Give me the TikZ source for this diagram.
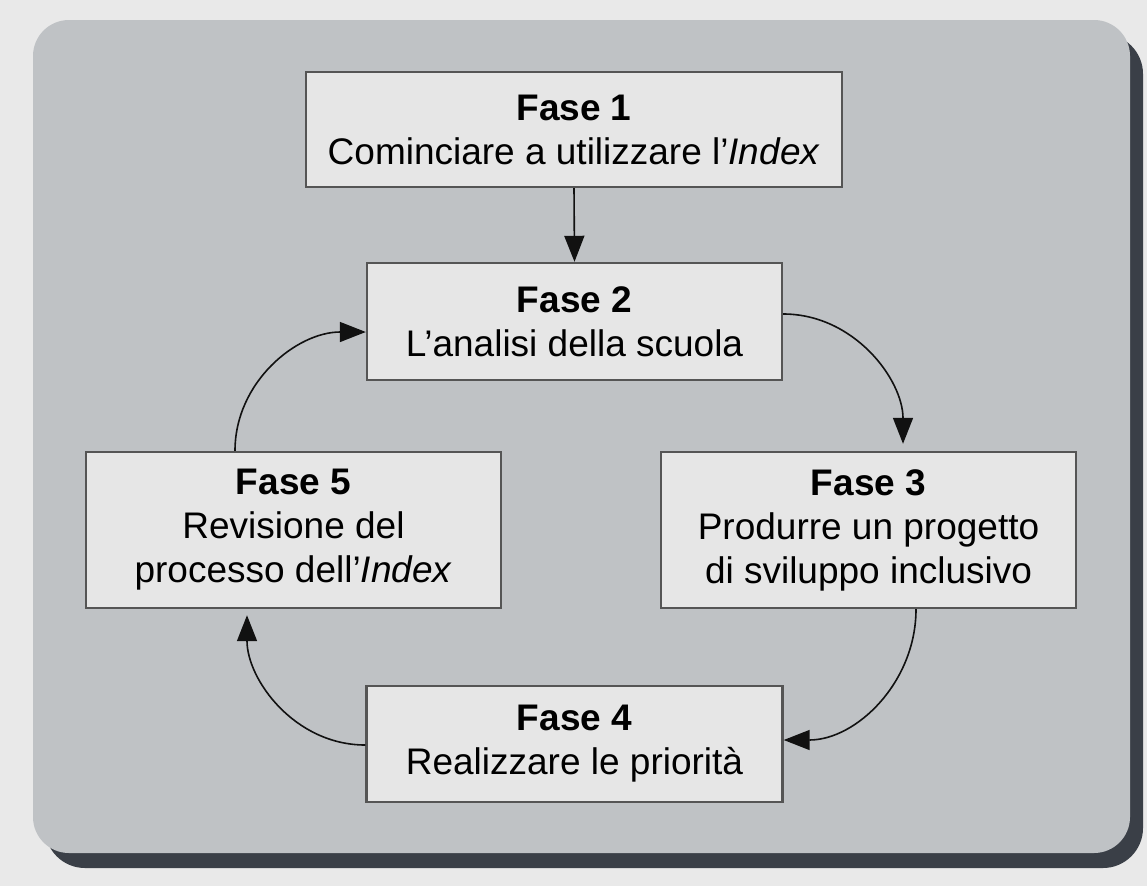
\documentclass[tikz,border=0pt]{standalone}
\usepackage{fontspec}
\setmainfont{Liberation Sans}
\usetikzlibrary{arrows.meta,calc}
\definecolor{bgc}{HTML}{E9E9E9}
\definecolor{panelc}{HTML}{BFC2C5}
\definecolor{shadowc}{HTML}{3A3F47}
\definecolor{boxc}{HTML}{E6E6E6}
\definecolor{edgec}{HTML}{555555}
\definecolor{linec}{HTML}{111111}
\tikzset{
  phase/.style={draw=edgec, line width=2.4pt, fill=boxc, align=center, inner sep=0pt,
    font=\fontsize{37}{44}\selectfont, text=black},
  flow/.style={draw=linec, line width=1.6pt, -{Triangle[length=26pt,width=20pt]}}
}
\begin{document}
\begin{tikzpicture}[x=1pt,y=-1pt]
\useasboundingbox[fill=bgc] (0,0) rectangle (1147,886);
% panel with shadow
\fill[shadowc, rounded corners=40pt] (45,34) rectangle (1143,868);
\fill[panelc, rounded corners=36pt] (33,20) rectangle (1130,853);
% boxes
\node[phase, minimum width=536pt, minimum height=115pt] (b1) at (574,129.5)
  {\textbf{Fase 1}\\Cominciare a utilizzare l’\textit{Index}};
\node[phase, minimum width=415pt, minimum height=117pt] (b2) at (574.5,321.5)
  {\textbf{Fase 2}\\L’analisi della scuola};
\node[phase, minimum width=415pt, minimum height=156pt] (b3) at (868.5,530)
  {\textbf{Fase 3}\\Produrre un progetto\\di sviluppo inclusivo};
\node[phase, minimum width=416pt, minimum height=116pt] (b4) at (574.5,744)
  {\textbf{Fase 4}\\Realizzare le priorità};
\node[phase, minimum width=415pt, minimum height=156pt] (b5) at (293.5,530)
  {\textbf{Fase 5}\\Revisione del\\processo dell’\textit{Index}};
% connectors
\draw[flow] (b1.south) -- (b2.north);
\draw[flow, shorten >=7pt] ([yshift=7.5pt]b2.east) to[out=0,in=90] ([xshift=34.5pt]b3.north);
\draw[flow] ([xshift=47.5pt]b3.south) to[out=-90,in=0] ([yshift=4pt]b4.east);
\draw[flow, shorten >=6pt] ([yshift=-1pt]b4.west) to[out=180,in=-90] ([xshift=-46.5pt]b5.south);
\draw[flow] ([xshift=-58.5pt]b5.north) to[out=90,in=180] ([yshift=-10.5pt]b2.west);
\end{tikzpicture}
\end{document}
